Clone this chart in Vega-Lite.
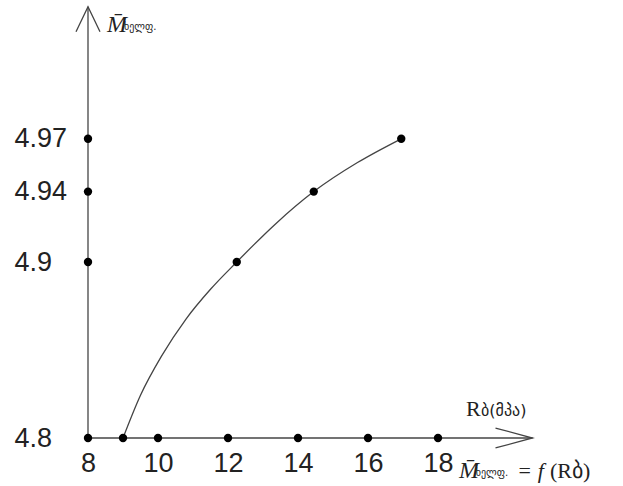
{
  "$schema": "https://vega.github.io/schema/vega-lite/v6.json",
  "autosize": {"type": "none"},
  "width": 444.5,
  "height": 431.2,
  "padding": {"left": 88, "top": 6.8, "right": 90.5, "bottom": 48},
  "background": "white",
  "config": {"view": {"stroke": null}},
  "datasets": {
    "curve": [
      {"Rb": 9, "M": 4.8},
      {"Rb": 12.25, "M": 4.9},
      {"Rb": 14.45, "M": 4.94},
      {"Rb": 16.95, "M": 4.97}
    ],
    "curveLine": [
      {"Rb": 9, "M": 4.8},
      {"Rb": 9.5, "M": 4.8243},
      {"Rb": 10.1, "M": 4.8465},
      {"Rb": 10.8, "M": 4.8676},
      {"Rb": 11.5, "M": 4.8845},
      {"Rb": 12.25, "M": 4.9},
      {"Rb": 13.35, "M": 4.9215},
      {"Rb": 14.45, "M": 4.94},
      {"Rb": 15.7, "M": 4.9565},
      {"Rb": 16.95, "M": 4.97}
    ],
    "axisDots": [
      {"Rb": 8, "M": 4.8},
      {"Rb": 8, "M": 4.9},
      {"Rb": 8, "M": 4.94},
      {"Rb": 8, "M": 4.97},
      {"Rb": 10, "M": 4.8},
      {"Rb": 12, "M": 4.8},
      {"Rb": 14, "M": 4.8},
      {"Rb": 16, "M": 4.8},
      {"Rb": 18, "M": 4.8}
    ],
    "mbar": [
      {"Rb": 8.54, "M": 5.0307, "t": "M\u0304"},
      {"Rb": 18.6, "M": 4.7773, "t": "M\u0304"}
    ],
    "sub": [
      {"Rb": 9.03, "M": 5.032, "t": "ხელფ."},
      {"Rb": 19.08, "M": 4.7784, "t": "ხელფ."}
    ],
    "serifText": [
      {"Rb": 20.3, "M": 4.7773, "t": "="},
      {"Rb": 21.2, "M": 4.7773, "t": "(Rბ)"},
      {"Rb": 18.8, "M": 4.8125, "t": "R"}
    ],
    "geoText": [
      {"Rb": 19.23, "M": 4.8125, "t": "ბ(მპა)"}
    ],
    "italicText": [
      {"Rb": 20.85, "M": 4.7773, "t": "f"}
    ]
  },
  "layer": [
    {
      "data": {"values": [{}]},
      "mark": {"type": "rule", "color": "#444", "strokeWidth": 1.3},
      "encoding": {
        "x": {
          "datum": 8, "type": "quantitative",
          "scale": {"domain": [8, 20.7], "nice": false, "zero": false},
          "axis": {"values": [8, 10, 12, 14, 16, 18], "domain": false, "ticks": false, "grid": false, "title": null,
                   "labelFontSize": 27, "labelFont": "Liberation Sans", "labelColor": "#222", "labelPadding": 12,
                   "format": "~g", "labelFlush": false, "labelOverlap": false}
        },
        "x2": {"datum": 20.7},
        "y": {
          "datum": 4.8, "type": "quantitative",
          "scale": {"domain": [4.8, 5.045], "nice": false, "zero": false},
          "axis": {"values": [4.8, 4.9, 4.94, 4.97], "domain": false, "ticks": false, "grid": false, "title": null,
                   "labelFontSize": 27, "labelFont": "Liberation Sans", "labelColor": "#222", "labelAlign": "left",
                   "labelPadding": 74, "labelBaseline": "middle", "format": "~g", "labelFlush": false, "labelOverlap": false}
        }
      }
    },
    {
      "data": {"values": [{}]},
      "mark": {"type": "rule", "color": "#444", "strokeWidth": 1.3},
      "encoding": {
        "x": {"datum": 8, "type": "quantitative"},
        "y": {"datum": 4.8, "type": "quantitative"},
        "y2": {"datum": 5.045}
      }
    },
    {
      "data": {"values": [{}]},
      "mark": {"type": "point", "shape": "M-1,-0.27L0,0L-1,0.27", "filled": false, "color": "#444", "strokeWidth": 1.3, "opacity": 1},
      "encoding": {
        "x": {"datum": 20.7, "type": "quantitative"},
        "y": {"datum": 4.8, "type": "quantitative"},
        "size": {"value": 5476}
      }
    },
    {
      "data": {"values": [{}]},
      "mark": {"type": "point", "shape": "M-0.48,1L0,0L0.48,1", "filled": false, "color": "#444", "strokeWidth": 1.3, "opacity": 1},
      "encoding": {
        "x": {"datum": 8, "type": "quantitative"},
        "y": {"datum": 5.045, "type": "quantitative"},
        "size": {"value": 2500}
      }
    },
    {
      "data": {"name": "curveLine"},
      "mark": {"type": "line", "interpolate": "monotone", "color": "#444", "strokeWidth": 1.3},
      "encoding": {
        "x": {"field": "Rb", "type": "quantitative"},
        "y": {"field": "M", "type": "quantitative"}
      }
    },
    {
      "data": {"name": "curve"},
      "mark": {"type": "point", "filled": true, "shape": "circle", "color": "black", "opacity": 1},
      "encoding": {
        "x": {"field": "Rb", "type": "quantitative"},
        "y": {"field": "M", "type": "quantitative"},
        "size": {"value": 70}
      }
    },
    {
      "data": {"name": "axisDots"},
      "mark": {"type": "point", "filled": true, "shape": "circle", "color": "black", "opacity": 1},
      "encoding": {
        "x": {"field": "Rb", "type": "quantitative"},
        "y": {"field": "M", "type": "quantitative"},
        "size": {"value": 70}
      }
    },
    {
      "data": {"name": "mbar"},
      "mark": {"type": "text", "font": "Liberation Serif", "fontStyle": "italic", "fontSize": 24, "align": "left", "baseline": "alphabetic", "color": "#222"},
      "encoding": {
        "x": {"field": "Rb", "type": "quantitative"},
        "y": {"field": "M", "type": "quantitative"},
        "text": {"field": "t"}
      }
    },
    {
      "data": {"name": "sub"},
      "mark": {"type": "text", "font": "DejaVu Sans", "fontSize": 10, "align": "left", "baseline": "alphabetic", "color": "#222"},
      "encoding": {
        "x": {"field": "Rb", "type": "quantitative"},
        "y": {"field": "M", "type": "quantitative"},
        "text": {"field": "t"}
      }
    },
    {
      "data": {"name": "serifText"},
      "mark": {"type": "text", "font": "Liberation Serif", "fontSize": 22, "align": "left", "baseline": "alphabetic", "color": "#222"},
      "encoding": {
        "x": {"field": "Rb", "type": "quantitative"},
        "y": {"field": "M", "type": "quantitative"},
        "text": {"field": "t"}
      }
    },
    {
      "data": {"name": "geoText"},
      "mark": {"type": "text", "font": "DejaVu Sans", "fontSize": 16, "align": "left", "baseline": "alphabetic", "color": "#222"},
      "encoding": {
        "x": {"field": "Rb", "type": "quantitative"},
        "y": {"field": "M", "type": "quantitative"},
        "text": {"field": "t"}
      }
    },
    {
      "data": {"name": "italicText"},
      "mark": {"type": "text", "font": "Liberation Serif", "fontStyle": "italic", "fontSize": 22, "align": "left", "baseline": "alphabetic", "color": "#222"},
      "encoding": {
        "x": {"field": "Rb", "type": "quantitative"},
        "y": {"field": "M", "type": "quantitative"},
        "text": {"field": "t"}
      }
    }
  ]
}
